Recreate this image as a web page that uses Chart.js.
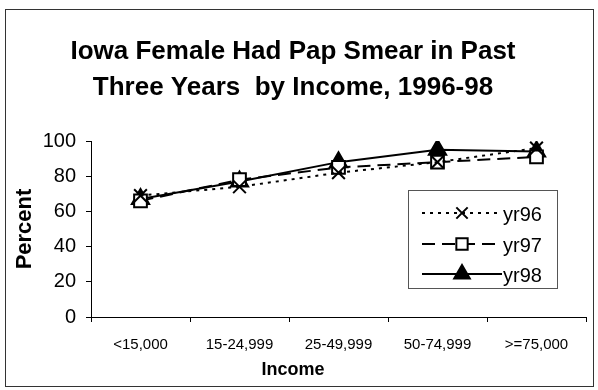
<!DOCTYPE html>
<html>
<head>
<meta charset="utf-8">
<script src="https://cdn.jsdelivr.net/npm/chart.js@4"></script>
<style>
  html, body { margin: 0; padding: 0; background: #fff; }
  #wrap { width: 598px; height: 390px; }
</style>
</head>
<body>
<div id="wrap"><canvas id="chart" width="598" height="390"></canvas></div>
<script>
const categories = ["<15,000", "15-24,999", "25-49,999", "50-74,999", ">=75,000"];
const seriesNames = ["yr96", "yr97", "yr98"];
const yr96 = [69, 74, 82, 88, 96];
const yr97 = [66, 78, 85, 88, 91];
const yr98 = [67, 77, 88, 95, 94];
const titleLines = ["Iowa Female Had Pap Smear in Past", "Three Years  by Income, 1996-98"];

const FONT = "'Liberation Sans', Arial, sans-serif";
const ctx = document.getElementById("chart").getContext("2d");

// styles per series
const styles = [
  { dash: [3, 5], pointStyle: "crossRot", fill: "#000", radius: 9 },
  { dash: [13, 7], pointStyle: "rect", fill: "#fff", radius: 9 },
  { dash: [], pointStyle: "triangle", fill: "#000", radius: 10 }
];

// frame around whole chart + legend box inside plot
const framePlugin = {
  id: "frame",
  afterDraw(chart) {
    const c = chart.ctx;
    c.save();
    c.strokeStyle = "#333";
    c.lineWidth = 1;
    c.strokeRect(5.5, 9.5, 588, 377);

    // legend box
    c.fillStyle = "#fff";
    c.fillRect(408, 190, 149, 98);
    c.strokeStyle = "#555";
    c.strokeRect(408.5, 190.5, 149, 98);
    const rows = [213, 244, 274];
    chart.data.datasets.forEach((ds, i) => {
      const y = rows[i];
      c.strokeStyle = "#000";
      c.lineWidth = 2;
      c.setLineDash(styles[i].dash);
      c.beginPath();
      c.moveTo(422, y);
      c.lineTo(502, y);
      c.stroke();
      c.setLineDash([]);
      c.fillStyle = styles[i].fill;
      Chart.helpers.drawPoint(c, {
        pointStyle: ds.pointStyle, radius: styles[i].radius - 1, borderWidth: 2, rotation: 0
      }, 462, y);
      c.fillStyle = "#000";
      c.font = "20px " + FONT;
      c.textBaseline = "middle";
      c.textAlign = "left";
      c.fillText(ds.label, 503, y + 2);
    });
    c.restore();
  }
};

function makeDataset(i, values) {
  return {
    label: seriesNames[i],
    data: values,
    borderColor: "#000",
    backgroundColor: styles[i].fill,
    borderWidth: 2,
    borderDash: styles[i].dash,
    pointStyle: styles[i].pointStyle,
    pointRadius: styles[i].radius,
    pointBorderWidth: 2,
    pointBackgroundColor: styles[i].fill,
    pointBorderColor: "#000",
    tension: 0,
    fill: false
  };
}

new Chart(ctx, {
  type: "line",
  data: {
    labels: categories,
    datasets: [makeDataset(0, yr96), makeDataset(1, yr97), makeDataset(2, yr98)]
  },
  options: {
    responsive: false,
    animation: false,
    layout: { padding: { left: 0, right: 12, top: 0, bottom: 0 } },
    plugins: {
      legend: { display: false },
      tooltip: { enabled: false },
      title: {
        display: true,
        text: titleLines,
        color: "#000",
        font: { family: FONT, size: 26, weight: "bold", lineHeight: 1.385 },
        padding: { top: 34, bottom: 35 }
      },
      subtitle: {
        display: true,
        position: "bottom",
        text: "Income",
        color: "#000",
        font: { family: FONT, size: 18, weight: "bold", lineHeight: 1.2 },
        padding: { top: 0, bottom: 9 }
      }
    },
    scales: {
      x: {
        offset: true,
        grid: { drawOnChartArea: false, drawTicks: true, tickLength: 5, color: "#000", offset: true },
        border: { color: "#000", width: 1 },
        ticks: { color: "#000", font: { family: FONT, size: 15 }, padding: 14, maxRotation: 0, autoSkip: false },
        afterFit(scale) { scale.height = 42.4; }
      },
      y: {
        min: 0,
        max: 100,
        ticks: { stepSize: 20, color: "#000", font: { family: FONT, size: 20 }, padding: 10 },
        grid: { drawOnChartArea: false, drawTicks: true, tickLength: 5, color: "#000" },
        border: { color: "#000", width: 1 },
        title: {
          display: true,
          text: "Percent",
          color: "#000",
          font: { family: FONT, size: 22, weight: "bold", lineHeight: 1.2 },
          padding: { top: 12, bottom: 0 }
        },
        afterFit(scale) { scale.width = 91; }
      }
    }
  },
  plugins: [framePlugin]
});
</script>
</body>
</html>
